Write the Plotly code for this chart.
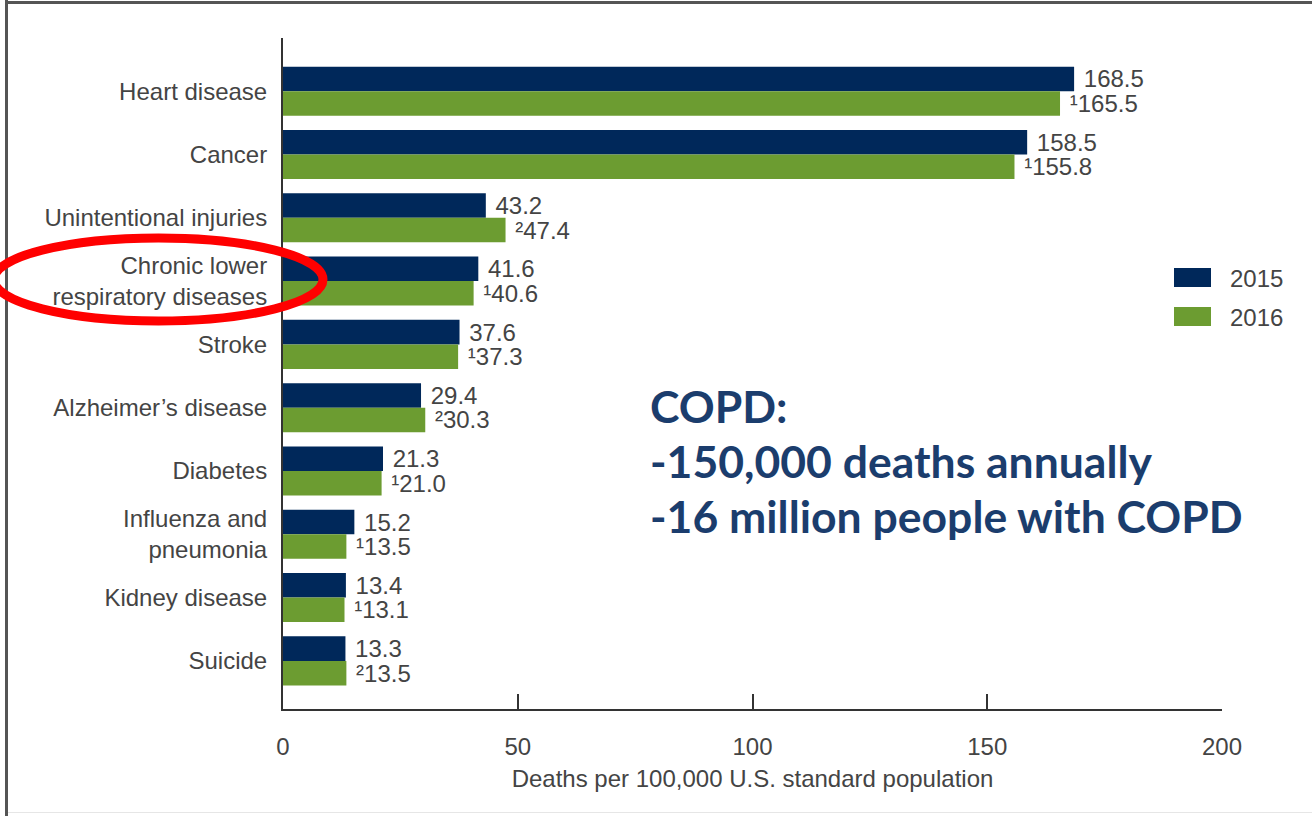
import plotly.graph_objects as go

categories = ["Heart disease", "Cancer", "Unintentional injuries",
              "Chronic lower<br>respiratory diseases", "Stroke",
              "Alzheimer’s disease", "Diabetes", "Influenza and<br>pneumonia",
              "Kidney disease", "Suicide"]
v2015 = [168.5, 158.5, 43.2, 41.6, 37.6, 29.4, 21.3, 15.2, 13.4, 13.3]
v2016 = [165.5, 155.8, 47.4, 40.6, 37.3, 30.3, 21.0, 13.5, 13.1, 13.5]
notes2016 = ["1", "1", "2", "1", "1", "2", "1", "1", "1", "2"]
series_names = ["2015", "2016"]
x_ticks = [0, 50, 100, 150, 200]
x_title = "Deaths per 100,000 U.S. standard population"
note_lines = ["COPD:", "-150,000 deaths annually", "-16 million people with COPD"]

SUP = {"1": "\u00b9", "2": "\u00b2"}
C15 = "#00285a"
C16 = "#6c9c31"
GRAY = "#444444"
FONT = "Liberation Sans, Arial, sans-serif"
FS = 24

W, H = 1312, 816
L, R, T, B = 283, 1222, 38, 709


def px(x):
    return (x - L) / (R - L)


def py(y):
    return (B - y) / (B - T)


fig = go.Figure()
fig.add_trace(go.Bar(
    y=categories, x=v2015, orientation="h", name=series_names[0],
    marker=dict(color=C15, line=dict(width=0)),
    text=[" " + f"{v:.1f}" for v in v2015], textposition="outside",
    textfont=dict(size=FS, color=GRAY, family=FONT), cliponaxis=False,
    constraintext="none", hoverinfo="x+y"))
fig.add_trace(go.Bar(
    y=categories, x=v2016, orientation="h", name=series_names[1],
    marker=dict(color=C16, line=dict(width=0)),
    text=[" " + SUP[n] + f"{v:.1f}" for v, n in zip(v2016, notes2016)],
    textposition="outside",
    textfont=dict(size=FS, color=GRAY, family=FONT), cliponaxis=False,
    constraintext="none", hoverinfo="x+y"))

shapes = []
# frame
shapes.append(dict(type="line", xref="paper", yref="paper",
                   x0=px(6.5), x1=px(6.5), y0=py(0), y1=py(816),
                   line=dict(color="#555555", width=3), layer="above"))
shapes.append(dict(type="line", xref="paper", yref="paper",
                   x0=px(5), x1=px(1312), y0=py(2.5), y1=py(2.5),
                   line=dict(color="#555555", width=3), layer="above"))
shapes.append(dict(type="line", xref="paper", yref="paper",
                   x0=px(8), x1=px(1312), y0=py(812.5), y1=py(812.5),
                   line=dict(color="#e6e6e6", width=1), layer="above"))
# legend swatches
shapes.append(dict(type="rect", xref="paper", yref="paper",
                   x0=px(1174), x1=px(1211), y0=py(268), y1=py(287),
                   fillcolor=C15, line=dict(width=0)))
shapes.append(dict(type="rect", xref="paper", yref="paper",
                   x0=px(1174), x1=px(1211), y0=py(307), y1=py(326),
                   fillcolor=C16, line=dict(width=0)))
# red ellipse highlight
shapes.append(dict(type="circle", xref="paper", yref="paper",
                   x0=px(-6), x1=px(323), y0=py(238), y1=py(321),
                   line=dict(color="#ff0000", width=9), layer="above"))

annotations = [
    dict(text=series_names[0], xref="paper", yref="paper", x=px(1228), y=py(278),
         xanchor="left", yanchor="middle", showarrow=False,
         font=dict(size=FS, color=GRAY, family=FONT)),
    dict(text=series_names[1], xref="paper", yref="paper", x=px(1228), y=py(317),
         xanchor="left", yanchor="middle", showarrow=False,
         font=dict(size=FS, color=GRAY, family=FONT)),
]
for i, line in enumerate(note_lines):
    annotations.append(dict(
        text="<b>" + line + "</b>", xref="paper", yref="paper",
        x=px(648), y=py(405 + i * 55), xanchor="left", yanchor="middle",
        showarrow=False, font=dict(size=44.5, color="#1b3d6d",
                                   family="Lato, Open Sans, sans-serif")))

fig.update_layout(
    width=W, height=H,
    margin=dict(l=L, r=W - R, t=T, b=H - B, autoexpand=False),
    paper_bgcolor="white", plot_bgcolor="white",
    barmode="group", bargap=0.225, bargroupgap=0,
    showlegend=False,
    font=dict(family=FONT, color=GRAY, size=FS),
    shapes=shapes, annotations=annotations,
    xaxis=dict(range=[0, 200], tickvals=x_ticks, ticks="inside", ticklen=15,
               tickwidth=2, tickcolor="#333333", showline=True, linewidth=2,
               linecolor="#333333", showgrid=False, zeroline=False,
               tickfont=dict(size=FS, color=GRAY), ticklabelstandoff=15,
               title=dict(text=x_title, font=dict(size=FS, color=GRAY), standoff=11),
               automargin=False),
    yaxis=dict(type="category", categoryorder="array", categoryarray=categories,
               range=[9.76, -0.84], showline=True, linewidth=2, linecolor="#333333",
               ticks="", showgrid=False, zeroline=False,
               tickfont=dict(size=FS, color=GRAY), ticklabelstandoff=9,
               automargin=False),
)

fig.write_html("out.html", config={"displayModeBar": False},
               post_script="document.body.style.margin='0';document.body.style.overflow='hidden';")
